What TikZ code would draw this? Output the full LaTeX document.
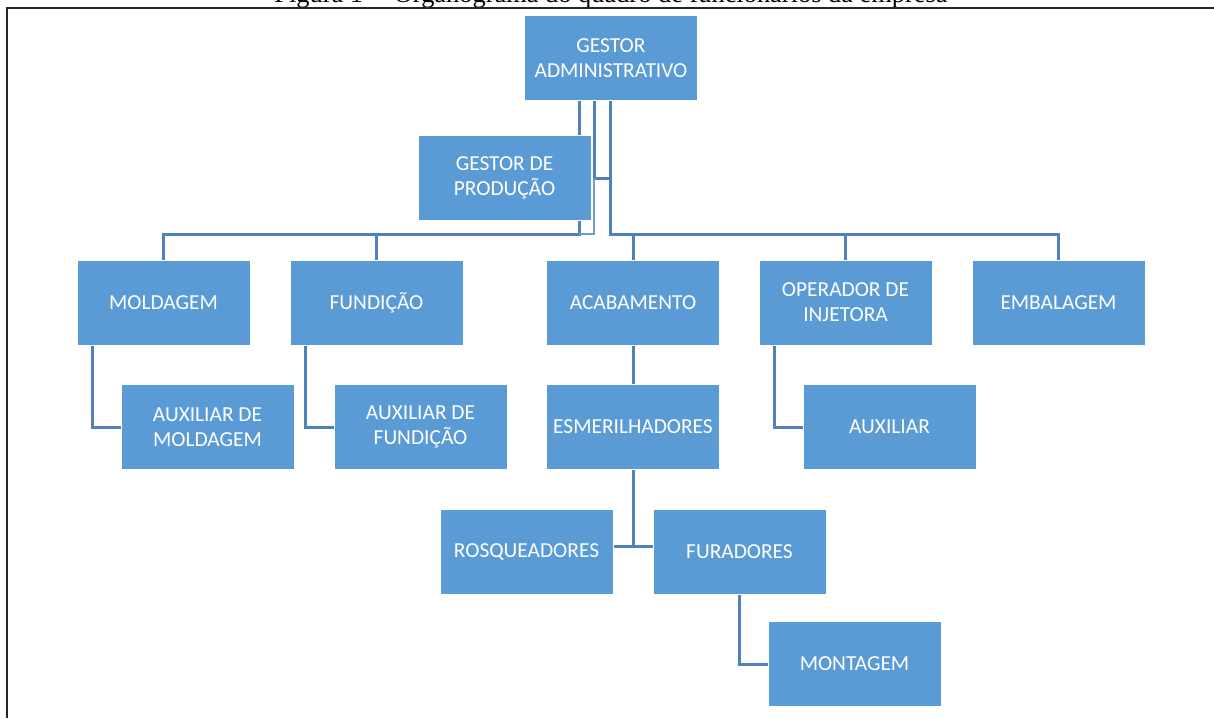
\documentclass[tikz,border=0pt]{standalone}
\usepackage{fontspec}
\setmainfont{Carlito}
\newfontfamily\capfont{Liberation Serif}
\usepackage{xcolor}
\usepackage{tikz}
\usetikzlibrary{positioning,backgrounds,calc}

\definecolor{boxblue}{HTML}{5B9BD5}
\definecolor{linkblue}{HTML}{4F81BD}

\begin{document}
\begin{tikzpicture}[
  x=0.5pt, y=-0.5pt,
  cargo/.style={rectangle, fill=boxblue, draw=white, line width=0.4pt,
    minimum width=86.5pt, minimum height=42.5pt, inner sep=2pt,
    text=white, align=center, font=\fontsize{10.7}{12.4}\selectfont},
  link/.style={draw=linkblue, line width=1.5pt},
  thinlink/.style={draw=linkblue!80, line width=0.6pt},
]
  \useasboundingbox (0,0) rectangle (1214,718);
  \clip (0,0) rectangle (1214,718);

  % Caption (cut at the top) and frame
  \node[anchor=base, inner sep=0pt, font=\capfont\fontsize{13.2}{15}\selectfont] (legenda) at (611,2)
    {Figura 1 -- Organograma do quadro de funcionários da empresa};
  \draw[line width=1.1pt, black!85] (7,718) -- (7,8) -- (1214,8);

  % Top level
  \node[cargo] (gadm) at (611,58) {GESTOR\\ADMINISTRATIVO};
  \node[cargo] (gprod) at (504.5,177.5) {GESTOR DE\\PRODUÇÃO};

  % Sectors
  \node[cargo] (mold) at (163.5,302.5) {MOLDAGEM};
  \node[cargo] (fund) at (376.5,302.5) {FUNDIÇÃO};
  \node[cargo] (acab) at (633,302.5) {ACABAMENTO};
  \node[cargo] (oper) at (845.5,302.5) {OPERADOR DE\\INJETORA};
  \node[cargo] (emb) at (1058.5,302.5) {EMBALAGEM};

  % Helpers
  \node[cargo] (auxmold) at (207.5,427) {AUXILIAR DE\\MOLDAGEM};
  \node[cargo] (auxfund) at (420.5,427) {AUXILIAR DE\\FUNDIÇÃO};
  \node[cargo] (esm) at (633,427) {ESMERILHADORES};
  \node[cargo] (aux) at (889.5,427) {AUXILIAR};
  \node[cargo] (rosq) at (526.5,552) {ROSQUEADORES};
  \node[cargo] (fur) at (739.5,552) {FURADORES};
  \node[cargo] (mont) at (854.5,664) {MONTAGEM};

  \coordinate (busL) at (579,234);
  \coordinate (asst) at (594,178);
  \coordinate (busR) at (610,234);
  \coordinate (split) at (633,546);

  \begin{pgfonlayer}{background}
    % left bus
    \draw[link] (gadm.south -| busL) -- (busL) -| (mold.north);
    \draw[link] (busL -| fund.north) -- (fund.north);
    % assistant
    \draw[link] (gadm.south -| asst) -- (asst) -- (asst -| busR);
    \draw[thinlink] (asst) -- (asst |- busL) -- (busL);
    % right bus
    \draw[link] (gadm.south -| busR) -- (busR) -| (emb.north);
    \draw[link] (busR -| acab.north) -- (acab.north);
    \draw[link] (busR -| oper.north) -- (oper.north);
    % elbows
    \draw[link] ([xshift=8pt]mold.south west) |- (auxmold.west);
    \draw[link] ([xshift=8pt]fund.south west) |- (auxfund.west);
    \draw[link] ([xshift=8pt]oper.south west) |- (aux.west);
    \draw[link] (acab.south) -- (esm.north);
    \draw[link] (esm.south) -- (split);
    \draw[link] (rosq.east |- split) -- (fur.west |- split);
    \draw[link] (fur.south) |- (mont.west);
  \end{pgfonlayer}
\end{tikzpicture}
\end{document}
